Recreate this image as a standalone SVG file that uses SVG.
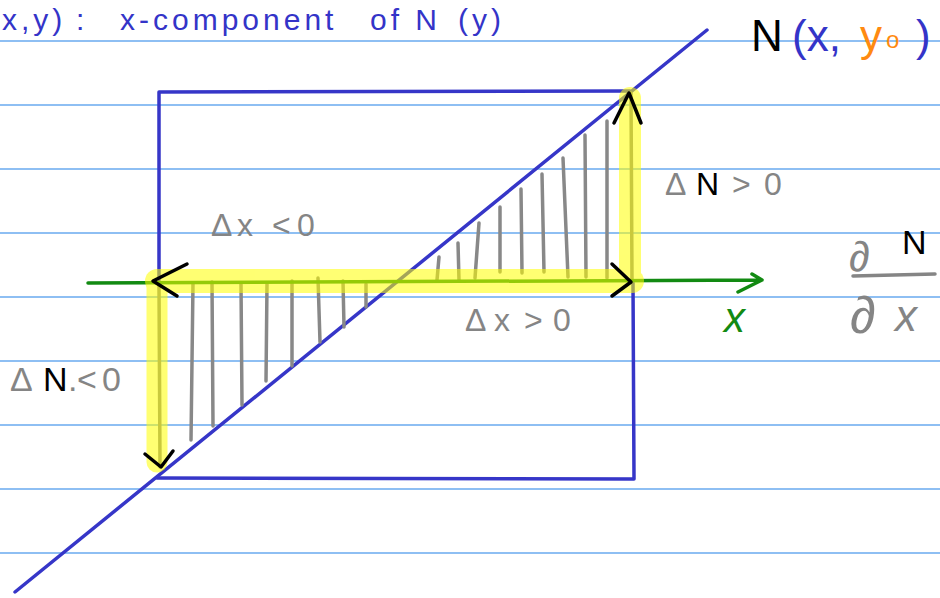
<svg xmlns="http://www.w3.org/2000/svg" width="940" height="598" viewBox="0 0 940 598">
<style>
.paper{stroke:#6aaaf0;stroke-width:1.5;fill:none}
.blue{stroke:#3636c8;stroke-width:3.5;fill:none;stroke-linecap:round;stroke-linejoin:round}
.hatch{stroke:#888;stroke-width:3.5;fill:none;stroke-linecap:round}
.green{stroke:#128a12;stroke-width:3.5;fill:none;stroke-linecap:round;stroke-linejoin:round}
.hl{stroke:#ffff00;fill:none;stroke-linecap:round}
.blk{stroke:#000;stroke-width:3.5;fill:none;stroke-linecap:round;stroke-linejoin:round}
text{font-family:"Liberation Sans","DejaVu Sans",sans-serif}
.g{fill:#858585}
.k{fill:#000}
.b{fill:#3434c8}
.o{fill:#ff8a10}
</style>
<rect width="940" height="598" fill="#fff"/>
<g id="paper">
<path class="paper" d="M0 41H940M0 105H940M0 169H940M0 233H940M0 297H940M0 361H940M0 425H940M0 489H940M0 553H940"/>
</g>
<g id="shapes">
<path id="rect" class="blue" d="M159 280L159 92L630 91M633 283L634 479L157 478"/>
<path id="diagonal" class="blue" d="M15 592L707 30"/>
<path id="hatch-left" class="hatch" d="M193 283L191 440M212 282L213 426M241 284L242 405M267 284L266 381M292 281L292 366M318 278L320 342M343 281L344 327M366 284L366 307"/>
<path id="hatch-right" class="hatch" d="M439 257L437 280M458 243L459 280M479 223L475 278M500 207L500 272M521 189L522 273M542 174L544 272M563 158L568 277M585 135L586 277M607 121L607 278"/>
<path id="dN" class="hatch" d="M631 93L632 281M159 285L160 467"/>
<path id="x-axis" class="green" d="M88 283L762 280M752 274L762 280L738 292"/>
</g>
<g id="highlight" opacity="0.55">
<path class="hl" stroke-width="24" d="M157 281L632 281"/>
<path class="hl" stroke-width="21" d="M157 283L157 462"/>
<path class="hl" stroke-width="22" d="M630 98L630 282"/>
</g>
<g id="connectors">
<path class="blk" d="M187 264L153 281L177 296"/>
<path class="blk" d="M612 264L631 282L612 296"/>
<path class="blk" d="M614 123L629 93L641 123"/>
<path class="blk" d="M145 454L161 467L173 451"/>
</g>
<g id="labels">
<g id="title"><text class="b" font-size="30" y="30" letter-spacing="4"><tspan x="2">x,y)</tspan><tspan x="76">:</tspan><tspan x="120">x-component</tspan><tspan x="370">of N</tspan><tspan x="458">(y)</tspan></text></g>
<g id="N-label"><text font-size="44" y="51"><tspan class="k" x="751">N</tspan><tspan class="b" x="792">(x,</tspan><tspan class="o" x="860">y</tspan><tspan class="o" font-size="24" x="886" dy="-3">o</tspan><tspan class="b" x="916" dy="3">)</tspan></text></g>
<g id="dN-pos"><text font-size="32" y="195"><tspan class="g" x="665">Δ</tspan><tspan class="k" x="696">N</tspan><tspan class="g" x="732">&gt;</tspan><tspan class="g" x="764">0</tspan></text></g>
<g id="dx-neg"><text class="g" font-size="32" y="236"><tspan x="211">Δ</tspan><tspan x="237">x</tspan><tspan x="272">&lt;</tspan><tspan x="297">0</tspan></text></g>
<g id="dx-pos"><text class="g" font-size="32" y="331"><tspan x="465">Δ</tspan><tspan x="494">x</tspan><tspan x="524">&gt;</tspan><tspan x="553">0</tspan></text></g>
<g id="dN-neg"><text font-size="34" y="391"><tspan class="g" x="10">Δ</tspan><tspan class="k" x="43">N</tspan><tspan class="g" x="68">.</tspan><tspan class="g" x="77">&lt;</tspan><tspan class="g" x="102">0</tspan></text></g>
<g id="x-label"><text font-size="42" font-style="italic" fill="#128a12" x="724" y="332">x</text></g>
<g id="partial">
<text class="g" font-size="42" x="849" y="271">∂</text>
<text class="k" font-size="34" x="902" y="254">N</text>
<path d="M853 276L935 274" stroke="#858585" stroke-width="3.5" stroke-linecap="round"/>
<text class="g" font-size="52" x="850" y="333">∂</text>
<text class="g" font-size="44" font-style="italic" x="895" y="331">x</text>
</g>
</g>
</svg>
